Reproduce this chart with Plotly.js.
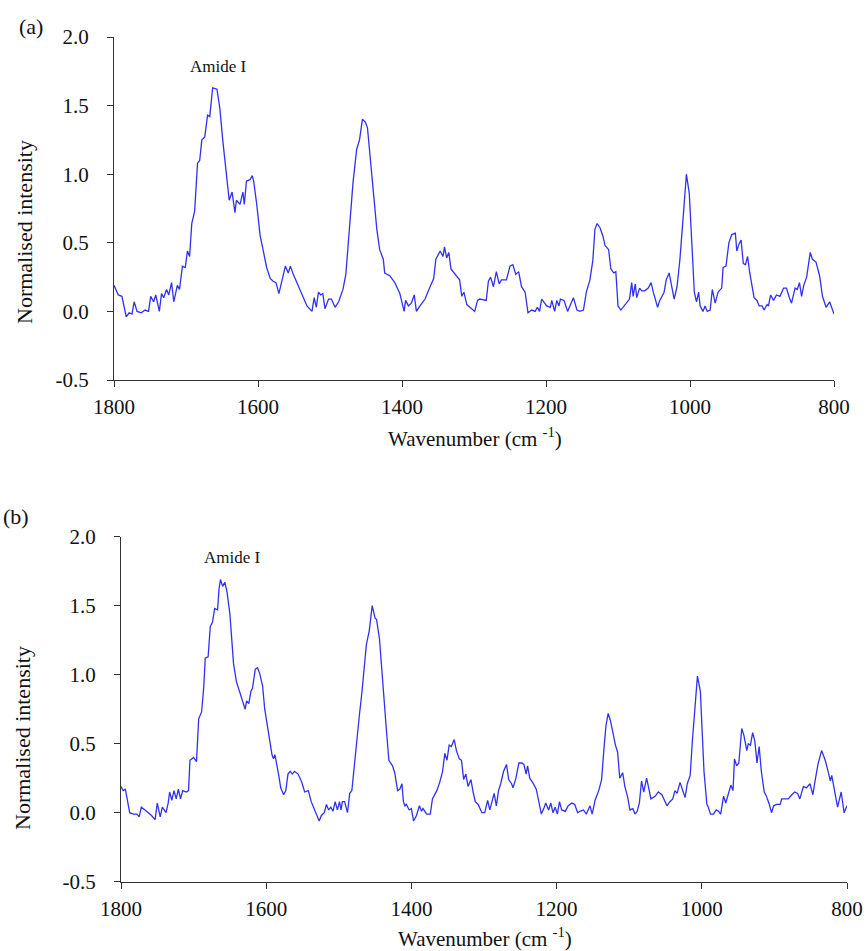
<!DOCTYPE html>
<html>
<head>
<meta charset="utf-8">
<script src="https://cdn.plot.ly/plotly-3.0.1.min.js"></script>
<style>html,body{margin:0;padding:0;background:#fff;}#chart{width:866px;height:951px;}</style>
</head>
<body>
<div id="chart"></div>
<script>
// ---- Data ----
var waveA = [1800,1794,1789,1783,1779,1775,1772,1768,1762,1757,1752,1749,1745,1742,1737,1734,1731,1727,1724,1720,1717,1712,1709,1705,1701,1698,1695,1692,1688,1684,1681,1678,1674,1670,1667,1663,1657,1653,1649,1644,1640,1636,1632,1630,1625,1621,1619,1616,1611,1608,1606,1602,1597,1593,1588,1583,1579,1575,1571,1566,1562,1558,1555,1551,1546,1542,1537,1532,1525,1522,1519,1516,1513,1510,1507,1502,1498,1493,1488,1482,1478,1472,1468,1463,1459,1455,1451,1448,1444,1439,1435,1431,1426,1424,1417,1410,1403,1397,1395,1391,1387,1383,1380,1375,1368,1361,1356,1353,1347,1343,1341,1338,1335,1332,1329,1324,1320,1317,1314,1310,1305,1299,1295,1292,1283,1280,1277,1273,1269,1265,1262,1255,1250,1246,1242,1238,1234,1229,1225,1220,1215,1212,1209,1206,1199,1194,1192,1188,1185,1182,1180,1175,1170,1167,1162,1157,1153,1148,1144,1139,1135,1132,1129,1125,1121,1118,1113,1110,1106,1103,1100,1096,1093,1089,1084,1081,1079,1076,1074,1070,1067,1063,1058,1054,1051,1045,1042,1036,1033,1029,1025,1022,1018,1014,1009,1005,1001,998,994,991,988,986,982,979,976,972,969,965,961,956,954,950,946,942,937,935,932,929,926,923,920,917,911,907,904,900,897,893,891,888,884,880,875,870,866,862,859,854,851,848,845,842,838,833,830,825,820,816,811,806,803,800];
var intensityA = [0.19,0.12,0.11,-0.04,-0.01,-0.02,0.07,0.00,-0.01,0.01,0.00,0.11,0.07,0.12,0.00,0.13,0.10,0.16,0.12,0.21,0.07,0.19,0.16,0.33,0.32,0.44,0.40,0.64,0.73,1.08,1.10,1.25,1.27,1.43,1.42,1.63,1.62,1.48,1.25,1.01,0.81,0.87,0.72,0.81,0.78,0.87,0.78,0.95,0.96,0.99,0.95,0.79,0.55,0.45,0.32,0.24,0.22,0.21,0.13,0.24,0.33,0.28,0.33,0.27,0.21,0.16,0.11,0.04,0.00,0.10,0.03,0.14,0.12,0.13,0.02,0.09,0.09,0.03,0.07,0.16,0.27,0.67,0.94,1.18,1.25,1.40,1.38,1.34,1.11,0.84,0.60,0.45,0.38,0.28,0.26,0.21,0.13,0.00,0.08,0.04,0.06,0.12,0.00,0.04,0.09,0.18,0.24,0.38,0.44,0.40,0.47,0.39,0.43,0.31,0.29,0.25,0.23,0.11,0.14,0.05,0.03,0.00,0.08,0.09,0.08,0.22,0.25,0.18,0.29,0.20,0.23,0.23,0.33,0.34,0.27,0.29,0.18,0.14,-0.01,0.01,0.00,0.03,0.00,0.09,0.04,0.03,0.08,0.00,0.08,0.04,0.09,0.08,0.00,0.04,0.10,0.01,0.00,0.01,0.14,0.23,0.37,0.60,0.64,0.61,0.55,0.48,0.45,0.31,0.28,0.29,0.04,0.01,0.03,0.06,0.09,0.21,0.11,0.20,0.10,0.17,0.15,0.15,0.17,0.21,0.14,0.03,0.08,0.14,0.23,0.28,0.16,0.09,0.18,0.38,0.72,1.00,0.86,0.52,0.14,0.07,0.14,0.04,0.00,0.04,0.00,0.01,0.16,0.06,0.14,0.17,0.32,0.33,0.50,0.56,0.57,0.44,0.49,0.52,0.35,0.34,0.40,0.28,0.10,0.08,0.04,0.04,0.01,0.05,0.04,0.12,0.08,0.12,0.11,0.17,0.17,0.10,0.06,0.17,0.16,0.21,0.11,0.19,0.25,0.43,0.38,0.36,0.26,0.11,0.03,0.07,0.03,-0.02];

var waveB = [1800,1797,1794,1791,1788,1783,1778,1775,1772,1767,1762,1758,1753,1750,1746,1743,1738,1735,1733,1730,1727,1724,1721,1718,1715,1710,1707,1705,1700,1696,1693,1689,1686,1684,1680,1677,1674,1671,1667,1665,1663,1660,1657,1654,1650,1645,1641,1636,1632,1629,1627,1624,1621,1619,1615,1612,1609,1605,1602,1597,1592,1590,1588,1583,1580,1576,1573,1570,1567,1564,1561,1556,1551,1547,1542,1538,1533,1527,1524,1520,1517,1514,1511,1508,1505,1502,1499,1497,1495,1492,1488,1485,1482,1479,1475,1472,1468,1465,1462,1458,1454,1450,1448,1444,1441,1438,1434,1431,1426,1423,1419,1416,1413,1411,1409,1407,1403,1400,1397,1393,1389,1386,1384,1379,1374,1371,1365,1361,1357,1354,1351,1348,1345,1341,1338,1334,1331,1328,1325,1322,1318,1315,1312,1308,1303,1299,1295,1292,1288,1286,1283,1280,1277,1273,1269,1266,1262,1260,1256,1252,1248,1245,1242,1240,1237,1233,1228,1225,1221,1217,1215,1211,1208,1205,1202,1199,1196,1193,1188,1184,1179,1175,1171,1168,1163,1159,1154,1151,1147,1142,1138,1135,1132,1129,1126,1122,1119,1116,1113,1109,1106,1102,1099,1095,1092,1089,1086,1083,1080,1076,1072,1070,1064,1060,1055,1052,1048,1044,1040,1037,1034,1030,1026,1023,1020,1016,1013,1009,1006,1002,1000,997,993,991,988,984,980,977,974,970,967,963,960,957,955,952,949,945,942,938,936,933,930,927,924,921,918,914,911,907,904,901,897,892,890,885,881,876,872,868,865,860,856,851,847,844,840,835,830,826,823,821,818,813,808,804,801,800];
var intensityB = [0.19,0.16,0.17,0.08,0.00,-0.01,-0.01,-0.03,0.04,0.02,0.00,-0.02,-0.05,0.07,-0.03,0.04,0.00,0.07,0.15,0.09,0.16,0.10,0.17,0.10,0.16,0.15,0.16,0.38,0.40,0.37,0.68,0.73,0.91,1.12,1.13,1.35,1.38,1.48,1.47,1.62,1.69,1.64,1.67,1.60,1.44,1.08,0.95,0.87,0.81,0.75,0.81,0.79,0.88,0.90,1.04,1.05,1.01,0.92,0.75,0.59,0.42,0.39,0.42,0.28,0.18,0.13,0.16,0.28,0.30,0.28,0.30,0.28,0.22,0.15,0.16,0.08,0.01,-0.06,-0.02,0.00,0.06,0.02,0.04,0.01,0.08,0.02,0.08,0.02,0.08,0.08,0.00,0.14,0.16,0.33,0.50,0.69,0.88,1.03,1.22,1.32,1.50,1.41,1.40,1.26,1.03,0.81,0.57,0.38,0.34,0.29,0.16,0.17,0.21,0.08,0.05,0.06,0.02,0.03,-0.06,-0.02,0.05,0.01,0.03,-0.01,-0.01,0.10,0.16,0.22,0.30,0.43,0.38,0.49,0.48,0.53,0.45,0.39,0.38,0.24,0.28,0.19,0.24,0.15,0.08,0.06,0.00,0.00,0.09,0.02,0.09,0.14,0.05,0.16,0.21,0.30,0.35,0.24,0.21,0.18,0.25,0.36,0.36,0.35,0.28,0.34,0.25,0.22,0.17,0.08,-0.01,0.04,0.07,0.02,0.07,0.00,0.04,-0.01,0.08,0.02,0.01,0.05,0.07,0.06,0.00,0.01,0.02,-0.01,0.05,-0.01,0.09,0.16,0.24,0.45,0.63,0.72,0.67,0.57,0.49,0.44,0.25,0.29,0.19,0.11,0.02,0.03,-0.01,0.01,0.07,0.23,0.15,0.25,0.16,0.10,0.12,0.15,0.13,0.09,0.05,0.08,0.10,0.16,0.14,0.22,0.16,0.11,0.21,0.27,0.52,0.76,0.99,0.88,0.62,0.30,0.06,0.04,-0.01,-0.01,0.02,0.01,-0.01,0.12,0.07,0.15,0.20,0.16,0.39,0.34,0.36,0.61,0.56,0.45,0.50,0.49,0.58,0.52,0.36,0.48,0.30,0.15,0.12,0.06,0.00,0.05,0.06,0.06,0.10,0.10,0.10,0.13,0.15,0.14,0.10,0.19,0.18,0.21,0.13,0.23,0.35,0.45,0.38,0.30,0.23,0.27,0.18,0.04,0.15,0.00,0.04,0.05];

var xTickVals = [1800,1600,1400,1200,1000,800];
var xTickText = ['1800','1600','1400','1200','1000','800'];
var yTickVals = [-0.5,0.0,0.5,1.0,1.5,2.0];
var yTickText = ['-0.5','0.0','0.5','1.0','1.5','2.0'];

var panelLabels = ['(a)','(b)'];
var peakLabel = 'Amide I';
var xTitle = 'Wavenumber (cm <sup>-1</sup>)';
var yTitle = 'Normalised intensity';

// ---- Layout helpers ----
var W = 866, H = 951;
function px(x){ return x / W; }
function py(y){ return 1 - y / H; }

var FONT = '"Liberation Serif", "Times New Roman", Times, serif';
var lineColor = '#3030f2';

function xAxis(dom, anchor){
  return {
    domain: dom, anchor: anchor, range: [1800, 800], autorange: false,
    tickmode: 'array', tickvals: xTickVals, ticktext: xTickText,
    ticks: 'outside', ticklen: 6, tickwidth: 1, tickcolor: '#333',
    showline: true, linecolor: '#333', linewidth: 1,
    showgrid: false, zeroline: false,
    tickfont: {family: FONT, size: 21, color: '#111'},
    ticklabelstandoff: 2
  };
}
function yAxis(dom, anchor){
  return {
    domain: dom, anchor: anchor, range: [-0.5, 2.0], autorange: false,
    tickmode: 'array', tickvals: yTickVals, ticktext: yTickText,
    ticks: 'outside', ticklen: 6, tickwidth: 1, tickcolor: '#333',
    showline: true, linecolor: '#333', linewidth: 1,
    showgrid: false, zeroline: false,
    tickfont: {family: FONT, size: 21, color: '#111'},
    ticklabelstandoff: 14
  };
}

var traces = [
  {x: waveA, y: intensityA, type: 'scatter', mode: 'lines', xaxis: 'x', yaxis: 'y',
   line: {color: lineColor, width: 1.3}, hoverinfo: 'skip'},
  {x: waveB, y: intensityB, type: 'scatter', mode: 'lines', xaxis: 'x2', yaxis: 'y2',
   line: {color: lineColor, width: 1.3}, hoverinfo: 'skip'}
];

function ann(text, x, y, size, opts){
  var a = {text: text, x: px(x), y: py(y), xref: 'paper', yref: 'paper',
           showarrow: false, xanchor: 'center', yanchor: 'middle',
           font: {family: FONT, size: size, color: '#111'}};
  for (var k in (opts||{})) a[k] = opts[k];
  return a;
}

var layout = {
  width: W, height: H,
  margin: {l: 0, r: 0, t: 0, b: 0},
  paper_bgcolor: '#fff', plot_bgcolor: '#fff',
  showlegend: false,
  font: {family: FONT, size: 21, color: '#111'},
  xaxis: xAxis([px(114), px(834)], 'y'),
  yaxis: yAxis([py(380), py(37)], 'x'),
  xaxis2: xAxis([px(121), px(847)], 'y2'),
  yaxis2: yAxis([py(881.7), py(536.7)], 'x2'),
  annotations: [
    ann(panelLabels[0], 31, 26, 22),
    ann(panelLabels[1], 16, 516, 22),
    ann(peakLabel, 218, 66, 17),
    ann(peakLabel, 232, 557, 17),
    ann(yTitle, 24, 232, 22, {textangle: -90}),
    ann(yTitle, 22, 738, 22, {textangle: -90}),
    ann(xTitle, 475, 437, 21),
    ann(xTitle, 485, 937, 21)
  ]
};

Plotly.newPlot('chart', traces, layout, {displayModeBar: false, staticPlot: true});
</script>
</body>
</html>
